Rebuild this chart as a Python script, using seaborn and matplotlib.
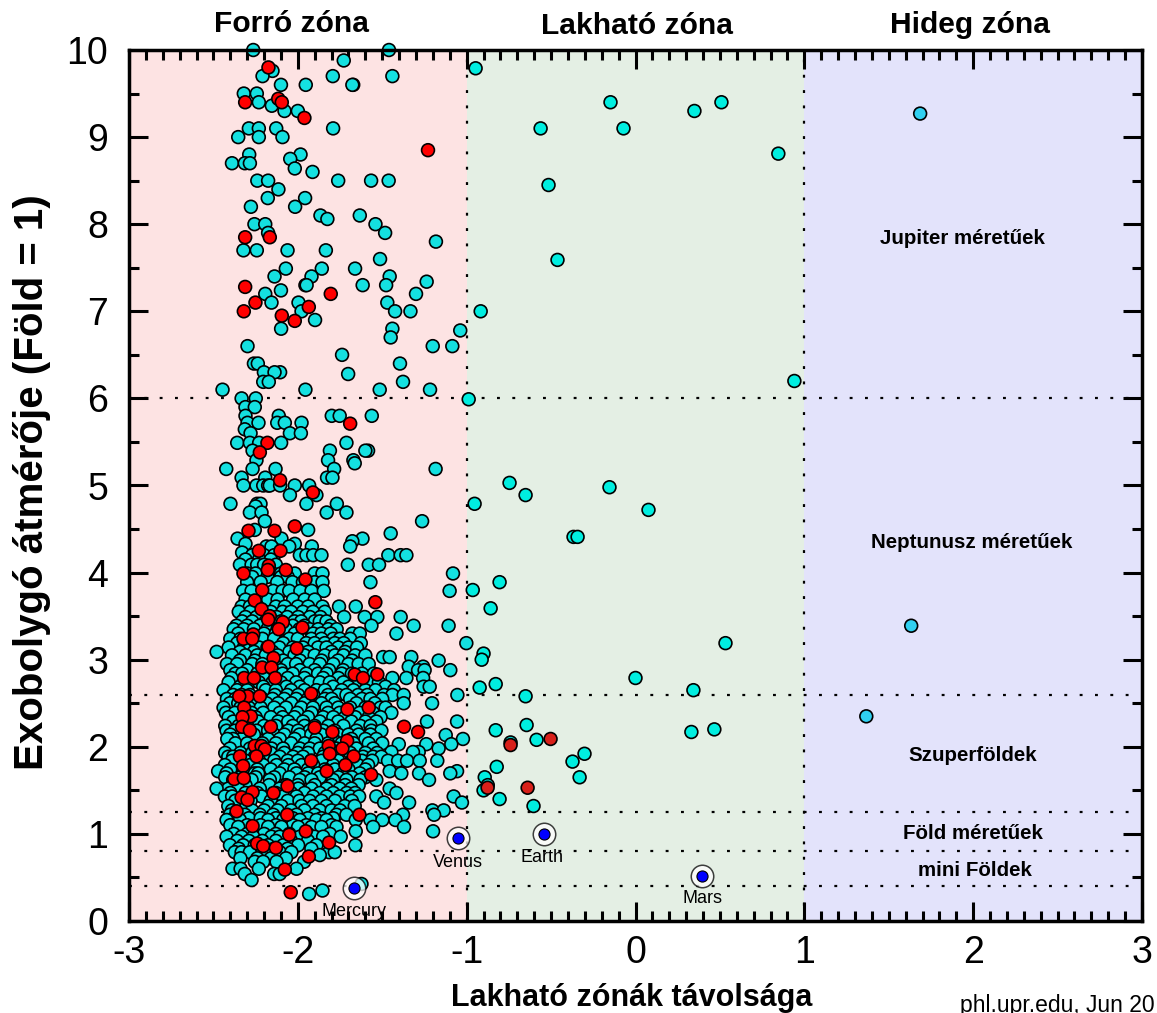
import pandas as pd
import matplotlib
matplotlib.use("Agg")
import matplotlib.pyplot as plt
import seaborn as sns

# rows of planets: (diameter, distance values)
hot_rows = [
    (10.0, [-2.264, -1.46]),
    (9.88, [-1.728]),
    (9.76, [-2.15]),
    (9.7, [-2.209, -1.793, -1.44]),
    (9.6, [-2.1, -1.953, -1.672, -1.677]),
    (9.5, [-2.32, -2.243]),
    (9.4, [-2.231]),
    (9.36, [-2.154]),
    (9.3, [-2.079, -2.0]),
    (9.1, [-2.29, -2.231, -2.128, -1.791]),
    (9.0, [-2.353, -2.231, -2.091]),
    (8.8, [-2.288, -1.984]),
    (8.75, [-2.045]),
    (8.7, [-2.39, -2.314, -2.284]),
    (8.64, [-2.018]),
    (8.6, [-1.913]),
    (8.5, [-2.24, -2.176, -1.761, -1.566, -1.462]),
    (8.4, [-2.115]),
    (8.3, [-2.178, -1.957]),
    (8.2, [-2.016, -2.278]),
    (8.1, [-1.866, -1.633]),
    (8.06, [-1.825]),
    (8.0, [-1.54, -2.257, -2.193]),
    (7.9, [-1.483, -2.176]),
    (7.8, [-1.182]),
    (7.7, [-2.322, -2.243, -2.061, -1.834]),
    (7.6, [-1.513]),
    (7.49, [-2.071, -1.858, -1.661]),
    (7.4, [-1.456, -2.138, -1.919]),
    (7.34, [-1.237]),
    (7.3, [-1.955, -1.948, -1.616, -1.477]),
    (7.24, [-2.1]),
    (7.2, [-2.193, -1.3]),
    (7.1, [-2.156, -1.996, -1.47]),
    (7.0, [-1.978, -1.424, -1.333]),
    (6.9, [-1.898]),
    (6.8, [-2.099, -1.44]),
    (6.78, [-1.038]),
    (6.7, [-1.45]),
    (6.6, [-1.201, -1.085, -2.298]),
    (6.5, [-1.738]),
    (6.4, [-1.395, -2.26, -2.237]),
    (6.3, [-2.201, -2.105, -2.138]),
    (6.28, [-1.702]),
    (6.19, [-2.205, -2.172, -1.377]),
    (6.1, [-2.446, -1.955, -1.515, -1.217]),
    (6.0, [-2.333, -2.249]),
    (5.9, [-2.31, -2.255]),
    (5.8, [-2.31, -2.113, -1.799, -1.752, -1.562]),
    (5.72, [-2.298, -2.233, -2.122, -2.077, -1.978]),
    (5.645, [-2.314]),
    (5.6, [-2.28, -2.047, -1.982]),
    (5.49, [-2.359, -2.284, -2.229, -2.099, -1.712]),
    (5.4, [-2.268, -1.81, -1.584, -1.6]),
    (5.29, [-2.245, -1.821, -1.671]),
    (5.255, [-1.663]),
    (5.19, [-2.424, -2.268, -2.132, -1.785, -1.184]),
    (5.09, [-2.333, -2.193, -1.827, -1.795]),
    (5.0, [-2.322, -2.245, -2.205, -2.176, -2.166, -2.105, -2.018, -1.933]),
    (4.89, [-2.047, -1.89]),
    (4.79, [-2.399, -2.241, -2.221, -1.949, -1.769]),
    (4.76, [-2.25]),
    (4.69, [-2.284, -2.215, -1.829, -1.712]),
    (4.59, [-2.195, -1.264]),
    (4.49, [-2.255, -1.939]),
    (4.45, [-1.45]),
    (4.39, [-2.357, -2.097, -1.617]),
    (4.36, [-1.677]),
    (4.33, [-2.31, -2.018]),
    (4.3, [-2.051, -1.69, -1.917, -2.186, -2.156]),
    (4.23, [-2.33]),
    (4.2, [-2.27, -2.2, -2.14, -1.988, -1.949, -1.909, -1.86, -1.464, -1.391, -1.357]),
    (4.15, [-2.31, -2.23, -2.16]),
    (4.09, [-2.343, -2.274, -2.241, -2.2, -2.13, -1.704, -1.58, -1.519]),
    (3.99, [-2.3, -2.25, -2.15, -2.1, -2.018, -1.9, -1.854, -1.081]),
    (3.95, [-2.27, -2.18, -2.1, -2.06]),
    (3.89, [-2.3, -2.22, -2.122, -2.032, -1.97, -1.9, -1.854, -1.57]),
    (3.79, [-2.324, -2.274, -2.146, -2.09, -2.051, -1.985, -1.919, -1.846, -1.101]),
    (3.69, [-2.31, -2.22, -2.176, -2.12, -2.028, -1.959, -1.9]),
    (3.61, [-2.333, -2.284, -2.13, -2.077, -2.0, -1.939, -1.854, -1.756, -1.657]),
    (3.55, [-2.35, -2.28, -2.2, -2.16, -2.09, -2.04, -1.97, -1.91, -1.84]),
    (3.49, [-2.31, -2.245, -2.126, -2.063, -1.998, -1.929, -1.866, -1.726, -1.604, -1.529, -1.391]),
    (3.44, [-2.33, -2.27, -2.19, -2.15, -2.1, -2.02, -1.98, -1.9, -1.87, -1.83]),
    (3.39, [-2.363, -2.3, -2.225, -2.03, -1.96, -1.805, -1.564, -1.314, -1.107]),
    (3.35, [-2.38, -2.32, -2.26, -2.18, -2.12, -2.07, -1.99, -1.93, -1.88, -1.82, -1.77]),
    (3.3, [-2.353, -2.2, -2.13, -2.018, -1.909, -1.86, -1.805, -1.677, -1.633, -1.416]),
    (3.24, [-2.4, -2.34, -2.29, -2.21, -2.14, -2.05, -2.0, -1.92, -1.86, -1.79, -1.75, -1.69]),
    (3.19, [-2.359, -2.27, -2.087, -1.95, -1.9, -1.84, -1.781, -1.728, -1.627, -1.002]),
    (3.14, [-2.41, -2.32, -2.23, -2.18, -2.11, -2.03, -1.97, -1.88, -1.83, -1.76, -1.7, -1.65]),
    (3.09, [-2.481, -2.343, -2.26, -2.15, -2.05, -1.939, -1.801, -1.72]),
    (3.05, [-2.39, -2.31, -2.24, -2.19, -2.12, -2.02, -1.96, -1.9, -1.84, -1.78, -1.73, -1.66, -1.6]),
    (3.03, [-1.495, -1.456, -1.328]),
    (2.99, [-2.343, -2.255, -2.087, -1.988, -1.86, -1.761, -1.679, -1.166]),
    (2.95, [-2.42, -2.36, -2.27, -2.21, -2.14, -2.06, -2.01, -1.93, -1.87, -1.79, -1.7, -1.64, -1.58]),
    (2.92, [-1.343, -1.258]),
    (2.88, [-2.4, -2.3, -2.1, -1.988, -1.9, -1.815, -1.732, -1.288, -1.249, -1.097]),
    (2.84, [-2.37, -2.33, -2.24, -2.17, -2.09, -2.03, -1.95, -1.88, -1.83, -1.74, -1.68, -1.62, -1.55]),
    (2.79, [-2.393, -2.2, -2.06, -1.96, -1.85, -1.76, -1.44, -1.357, -1.258]),
    (2.74, [-2.41, -2.28, -2.23, -2.15, -2.1, -2.01, -1.93, -1.87, -1.81, -1.73, -1.66, -1.58, -1.52]),
    (2.69, [-2.343, -2.205, -2.067, -1.988, -1.791, -1.7, -1.481, -1.255, -1.219]),
    (2.65, [-2.44, -2.36, -2.3, -2.19, -2.13, -2.04, -1.96, -1.89, -1.84, -1.74, -1.67, -1.6, -1.54, -1.43]),
    (2.595, [-2.383, -2.333, -2.284, -2.136, -2.063, -1.998, -1.909, -1.821, -1.761, -1.712, -1.643, -1.588, -1.489, -1.44, -1.373, -1.055]),
    (2.55, [-2.42, -2.37, -2.27, -2.21, -2.15, -2.08, -2.01, -1.94, -1.84, -1.8, -1.69, -1.62, -1.57, -1.5]),
    (2.5, [-2.402, -2.353, -2.245, -2.186, -2.116, -2.038, -1.959, -1.86, -1.781, -1.653, -1.544, -1.205, -1.373]),
    (2.45, [-2.44, -2.34, -2.29, -2.22, -2.14, -2.07, -1.98, -1.91, -1.83, -1.76, -1.69, -1.6, -1.51, -1.48]),
    (2.39, [-2.426, -2.373, -2.274, -2.205, -2.107, -2.004, -1.919, -1.821, -1.752, -1.633, -1.554, -1.446]),
    (2.34, [-2.41, -2.32, -2.25, -2.16, -2.09, -2.02, -1.94, -1.85, -1.79, -1.72, -1.66, -1.58, -1.51]),
    (2.29, [-2.383, -2.235, -2.116, -2.057, -1.969, -1.87, -1.761, -1.683, -1.6, -1.535, -1.235, -1.057]),
    (2.24, [-2.43, -2.35, -2.3, -2.2, -2.13, -2.03, -1.96, -1.9, -1.82, -1.73, -1.63, -1.57]),
    (2.185, [-2.422, -2.373, -2.245, -2.176, -2.057, -1.998, -1.929, -1.85, -1.781, -1.653, -1.564, -1.505]),
    (2.14, [-2.4, -2.31, -2.26, -2.14, -2.08, -1.99, -1.92, -1.86, -1.76, -1.7, -1.64, -1.57]),
    (2.135, [-1.124]),
    (2.09, [-2.333, -2.383, -2.107, -2.176, -2.018, -1.89, -1.791, -1.683, -1.6, -1.535, -1.022, -2.418]),
    (2.04, [-2.37, -2.3, -2.21, -2.13, -2.04, -1.96, -1.9, -1.82, -1.74, -1.67, -1.58, -1.5]),
    (2.03, [-1.402, -1.239, -1.091]),
    (1.98, [-2.402, -2.284, -2.156, -2.087, -1.988, -1.929, -1.87, -1.771, -1.653, -1.554, -1.166]),
    (1.94, [-1.446, -1.284, -1.318]),
    (1.93, [-2.43, -2.34, -2.27, -2.16, -2.08, -2.0, -1.94, -1.84, -1.78, -1.69, -1.6, -1.53]),
    (1.886, [-2.412, -2.383, -2.255, -2.205, -2.107, -2.028, -1.969, -1.85, -1.771, -1.614, -1.554, -1.505]),
    (1.84, [-1.466, -1.406, -1.353, -1.278, -1.174, -2.39, -2.31, -2.23, -2.14, -2.06, -2.0, -1.92, -1.86, -1.76, -1.68, -1.62, -1.56]),
    (1.79, [-2.432, -2.284, -2.205, -2.126, -2.057, -1.978, -1.909, -1.791, -1.643, -1.584]),
    (1.74, [-2.4, -2.32, -2.24, -2.16, -2.08, -2.02, -1.94, -1.84, -1.78, -1.7, -1.6]),
    (1.72, [-2.472, -1.456, -1.057]),
    (1.695, [-2.422, -2.255, -2.235, -2.107, -2.008, -1.939, -1.88, -1.732, -1.633, -1.387, -1.282, -1.097]),
    (1.65, [-2.43, -2.34, -2.25, -2.14, -2.05, -1.96, -1.87, -1.76, -1.68, -1.6]),
    (1.62, [-2.383, -2.274, -2.166, -1.988, -1.919, -1.791, -1.712, -1.63, -1.535, -1.223]),
    (1.56, [-2.38, -2.31, -2.17, -2.07, -2.0, -1.9, -1.8, -1.72, -1.64]),
    (1.52, [-2.412, -2.353, -2.225, -2.107, -1.998, -1.919, -1.83, -1.752, -1.683, -1.456, -2.481]),
    (1.47, [-1.416, -2.4, -2.31, -2.24, -2.13, -2.04, -1.96, -1.87, -1.79, -1.71, -1.66]),
    (1.43, [-2.432, -2.389, -2.215, -2.087, -2.008, -1.909, -1.83, -1.752, -1.689, -1.637, -1.535, -1.077]),
    (1.38, [-2.37, -2.28, -2.16, -2.06, -1.99, -1.93, -1.86, -1.78, -1.68]),
    (1.36, [-1.489, -1.028, -1.341]),
    (1.32, [-2.412, -2.304, -2.176, -2.097, -1.978, -1.909, -1.83, -1.722, -1.663]),
    (1.27, [-1.203, -1.136, -2.39, -2.27, -2.2, -2.12, -2.04, -1.96, -1.87, -1.8, -1.75]),
    (1.22, [-2.402, -2.314, -2.225, -2.146, -2.008, -1.9, -1.771, -1.712, -1.377, -1.193]),
    (1.18, [-2.38, -2.29, -2.22, -2.13, -2.03, -1.94, -1.86, -1.79]),
    (1.16, [-2.422, -2.343, -2.176, -2.087, -1.988, -1.89, -1.83, -1.657, -1.57, -1.499, -1.422]),
    (1.1, [-2.4, -2.3, -2.22, -2.13, -2.03, -1.95, -1.8]),
    (1.08, [-2.353, -2.176, -2.097, -1.998, -1.919, -1.86, -1.771, -1.554, -1.371]),
    (1.03, [-1.657, -1.199]),
    (1.0, [-2.38, -2.3, -2.2, -2.13, -2.05, -1.94, -1.81]),
    (0.968, [-2.422, -2.333, -2.264, -2.156, -2.107, -1.988, -1.9, -1.85, -1.746]),
    (0.92, [-2.36, -2.29, -2.21, -2.13, -2.04, -1.94]),
    (0.87, [-2.402, -2.324, -2.255, -2.176, -2.087, -1.998, -1.89, -1.659]),
    (0.83, [-2.35, -2.24, -2.14, -2.06, -1.92]),
    (0.79, [-2.373, -2.333, -2.284, -2.186, -2.107, -2.038, -1.815, -1.781]),
    (0.757, [-1.87]),
    (0.72, [-2.34, -2.24, -2.16, -2.07]),
    (0.68, [-2.255, -2.205, -2.126, -1.963]),
    (0.6, [-2.387, -2.339, -2.231, -2.008]),
    (0.54, [-2.314, -2.14, -2.107]),
    (0.47, [-2.274]),
    (0.425, [-1.623]),
    (0.35, [-1.854]),
    (0.31, [-1.933]),
]

hot_red_x = [-2.174, -2.116, -2.095, -2.312, -1.961, -1.229, -2.312, -2.166, -2.312, -2.251, -1.805, -1.935, -2.32, -2.095, -2.018,
             -1.69, -2.18, -2.225, -2.105, -1.911, -2.018, -2.292, -2.138, -2.231, -2.103, -2.172, -2.178, -2.322, -2.071, -1.955,
             -2.211, -2.255, -1.541, -2.215, -2.166, -2.176, -2.089, -2.113, -1.973, -2.264, -2.322, -2.27, -2.174, -2.006, -2.144,
             -2.211, -2.156, -2.318, -2.26, -2.134, -1.663, -1.614, -1.529, -1.921, -2.298, -2.225, -2.347,
             -1.58, -1.706, -2.318, -2.278, -2.328, -1.9, -1.795, -2.33, -2.16, -2.284, -1.371, -1.288, -1.708, -1.817, -1.736,
             -2.255, -2.215, -2.195, -1.811, -2.245, -2.343, -1.669, -1.921, -1.718, -2.324, -1.829, -1.566, -2.377, -2.32, -2.061,
             -2.268, -2.144, -2.333, -2.298, -2.363, -2.063, -1.635, -2.268, -1.953, -2.051, -2.241, -2.205, -2.13, -1.815, -1.935,
             -2.077, -2.042]
hot_red_y = [9.8, 9.44, 9.4, 9.4, 9.22, 8.85, 7.85, 7.85, 7.28, 7.1, 7.2, 7.05, 7.0, 6.95, 6.89,
             5.71, 5.49, 5.38, 5.06, 4.92, 4.53, 4.48, 4.48, 4.25, 4.25, 4.08, 4.03, 3.99, 4.03, 3.92,
             3.8, 3.68, 3.66, 3.58, 3.5, 3.46, 3.43, 3.35, 3.37, 3.29, 3.24, 3.24, 3.15, 3.13, 3.02,
             2.91, 2.91, 2.79, 2.79, 2.79, 2.83, 2.79, 2.83, 2.61, 2.58, 2.58, 2.58,
             2.45, 2.43, 2.45, 2.35, 2.34, 2.22, 2.17, 2.23, 2.23, 2.19, 2.23, 2.17, 2.07, 2.01, 1.98,
             2.01, 2.01, 1.97, 1.92, 1.89, 1.89, 1.89, 1.84, 1.79, 1.78, 1.72, 1.68, 1.63, 1.64, 1.55,
             1.48, 1.47, 1.42, 1.39, 1.26, 1.22, 1.22, 1.09, 1.03, 0.99, 0.89, 0.86, 0.84, 0.9, 0.74,
             0.59, 0.33]

hz_x = [-0.947, -0.148, -0.562, -0.071, 0.349, 0.509, 0.846, -0.515, -0.462, -0.917, 0.941, -0.988, -0.746, -0.651, -0.154, 0.077,
        -0.953, -0.367, -0.343, -0.964, -0.805, -0.858, 0.533, -0.9, -0.911, -0.923, -0.828, -0.651, 0.0, 0.343, 0.331, 0.467,
        -0.828, -0.645, -0.586, -0.74, -0.373, -0.302, -0.331, -0.893, -0.9, -0.822, -0.805, -0.604, -0.875]
hz_y = [9.79, 9.4, 9.1, 9.1, 9.3, 9.4, 8.81, 8.45, 7.59, 7.0, 6.2, 5.99, 5.03, 4.89, 4.98, 4.72,
        4.79, 4.41, 4.41, 3.8, 3.89, 3.59, 3.19, 3.07, 3.0, 2.68, 2.72, 2.58, 2.79, 2.65, 2.17, 2.2,
        2.19, 2.25, 2.08, 2.05, 1.83, 1.92, 1.65, 1.65, 1.5, 1.77, 1.4, 1.32, 1.56]
hz_red_x = [-0.503, -0.74, -0.639, -0.876]
hz_red_y = [2.09, 2.02, 1.53, 1.53]

cold_x = [1.686, 1.633, 1.367]
cold_y = [9.27, 3.39, 2.35]

solar_names = ["Mercury", "Venus", "Earth", "Mars"]
solar_x = [-1.669, -1.053, -0.544, 0.396]
solar_y = [0.38, 0.95, 1.0, 0.52]

zone_edges = [-3, -1, 1, 3]
zone_colors = ["#fde3e3", "#e4efe4", "#e3e3fb"]
size_limits = [6, 2.6, 1.25, 0.8, 0.4]
x_ticks = [-3, -2, -1, 0, 1, 2, 3]
y_ticks = [0, 1, 2, 3, 4, 5, 6, 7, 8, 9, 10]

hot_x = [x for y, xs in hot_rows for x in xs]
hot_y = [y for y, xs in hot_rows for x in xs]

df = pd.DataFrame({
    "x": hot_x + cold_x + hz_x + hot_red_x + hz_red_x,
    "y": hot_y + cold_y + hz_y + hot_red_y + hz_red_y,
    "kind": ["hot"] * len(hot_x) + ["cold"] * len(cold_x) + ["hz"] * len(hz_x)
            + ["red"] * len(hot_red_x) + ["hzred"] * len(hz_red_x),
})
pal = {"hot": "#14e0e0", "cold": "#30d0f0", "hz": "#00eee0", "red": "#ff0000", "hzred": "#d8201a"}

sns.set_style("white")
plt.rcParams["font.family"] = ["Liberation Sans", "DejaVu Sans"]
plt.rcParams["axes.unicode_minus"] = False
plt.rcParams["text.color"] = "black"
plt.rcParams["xtick.color"] = "black"
plt.rcParams["ytick.color"] = "black"

W, H = 1157, 1013
fig = plt.figure(figsize=(W / 100, H / 100), dpi=100)
ax = fig.add_axes([129 / W, 1 - 921 / H, (1142 - 129) / W, (921 - 50) / H])

for i in range(3):
    ax.axvspan(zone_edges[i], zone_edges[i + 1], color=zone_colors[i], lw=0, zorder=0)
for v in size_limits:
    ax.axhline(v, color="black", lw=1.6, ls=(0, (1.3, 5.6)), zorder=1)
for v in [-1, 1]:
    ax.axvline(v, color="black", lw=1.6, ls=(0, (1.3, 5.6)), zorder=1)

sns.scatterplot(data=df, x="x", y="y", hue="kind", palette=pal, s=85, edgecolor="black",
                linewidth=1.2, legend=False, ax=ax, zorder=3, clip_on=False)

# solar system planets with a ring round them
sns.scatterplot(x=solar_x, y=solar_y, s=262, facecolor="#ffffff", alpha=0.75, edgecolor="black", linewidth=1.1,
                ax=ax, zorder=4, legend=False)
sns.scatterplot(x=solar_x, y=solar_y, s=64, color="#0000ff", edgecolor="black", linewidth=0.8,
                ax=ax, zorder=5, legend=False)

ax.set_xlim(-3, 3)
ax.set_ylim(0, 10)
ax.set_xticks(x_ticks)
ax.set_yticks(y_ticks)
ax.set_xticks([t / 10 for t in range(-30, 31)], minor=True)
ax.set_yticks([t / 2 for t in range(0, 21)], minor=True)
ax.tick_params(which="major", direction="in", length=14, width=2.2, top=True, right=True, bottom=True, left=True,
               labelsize=27)
ax.tick_params(which="minor", direction="in", length=7, width=2.2, top=True, right=True, bottom=True, left=True)
ax.tick_params(axis="y", which="major", pad=15)
ax.tick_params(axis="x", which="major", pad=10)
for s in ax.spines.values():
    s.set_linewidth(2.5)
    s.set_color("black")
    s.set_zorder(6)
ax.set_xlabel("")
ax.set_ylabel("")


def px_text(px, py, s, **kw):
    fig.text(px / W, 1 - py / H, s, ha="center", va="center", **kw)


px_text(292, 24, "Forró zóna", fontsize=21.6, fontweight="bold")
px_text(637, 26, "Lakható zóna", fontsize=21.6, fontweight="bold")
px_text(970, 25, "Hideg zóna", fontsize=21.6, fontweight="bold")

px_text(962, 238, "Jupiter méretűek", fontsize=14.8, fontweight="bold")
px_text(972, 543, "Neptunusz méretűek", fontsize=14.8, fontweight="bold")
px_text(973, 755, "Szuperföldek", fontsize=14.8, fontweight="bold")
px_text(973, 833, "Föld méretűek", fontsize=14.8, fontweight="bold")
px_text(975, 870, "mini Földek", fontsize=14.8, fontweight="bold")

px_text(354, 911, "Mercury", fontsize=13, zorder=7)
px_text(458, 862, "Venus", fontsize=13)
px_text(542, 857, "Earth", fontsize=13)
px_text(702, 898, "Mars", fontsize=13)

px_text(632, 998, "Lakható zónák távolsága", fontsize=22, fontweight="bold")
px_text(32, 482, "Exobolygó átmérője (Föld = 1)", fontsize=29, fontweight="bold", rotation=90)
fig.text(960 / W, 1 - 1005 / H, "phl.upr.edu, Jun 20", fontsize=16.5, ha="left", va="center")

fig.savefig("out.png", dpi=100)
